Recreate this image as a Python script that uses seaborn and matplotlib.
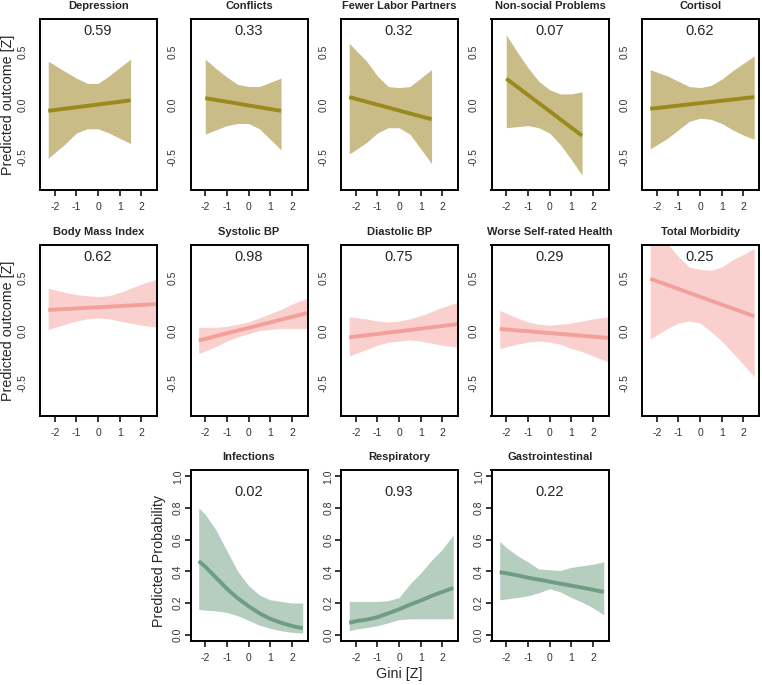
"""Predicted outcome vs Gini, 3x5 panel grid in base-R look."""
import matplotlib
matplotlib.use("Agg")
import matplotlib.pyplot as plt
import seaborn as sns

# ---------------------------------------------------------------------------
# Data
# ---------------------------------------------------------------------------

gini_a = [-2.3, -1.5, -1.0, -0.5, 0.0, 0.5, 1.0, 1.5]
gini_b = [-2.0, -1.5, -1.0, -0.5, 0.0, 0.5, 1.0, 1.5]
gini_c = [-2.3, -1.5, -1.0, -0.5, 0.0, 0.5, 1.0, 1.5, 2.0, 2.5]
gini_d = [-2.3, -1.5, -1.0, -0.5, 0.0, 0.5, 1.0, 1.5, 2.0, 2.75]
gini_e = [-2.3, -2.0, -1.5, -1.0, -0.5, 0.0, 0.5, 1.0, 1.5, 2.0, 2.5]

depression_fit = [-0.06, -0.039, -0.026, -0.013, 0.0, 0.013, 0.026, 0.04]
depression_lo = [-0.51, -0.37, -0.27, -0.23, -0.23, -0.27, -0.32, -0.37]
depression_hi = [0.41, 0.31, 0.25, 0.20, 0.20, 0.27, 0.35, 0.43]

conflicts_fit = [0.06, 0.043, 0.026, 0.009, -0.009, -0.026, -0.043, -0.06]
conflicts_lo = [-0.28, -0.24, -0.20, -0.18, -0.18, -0.23, -0.33, -0.43]
conflicts_hi = [0.43, 0.34, 0.26, 0.19, 0.17, 0.17, 0.21, 0.25]

labor_fit = [0.07, 0.026, -0.002, -0.029, -0.057, -0.085, -0.112, -0.14]
labor_lo = [-0.47, -0.36, -0.27, -0.22, -0.22, -0.28, -0.42, -0.56]
labor_hi = [0.58, 0.41, 0.27, 0.17, 0.16, 0.17, 0.25, 0.33]

nonsocial_fit = [0.245, 0.168, 0.091, 0.014, -0.063, -0.141, -0.218, -0.295]
nonsocial_lo = [-0.22, -0.21, -0.20, -0.22, -0.27, -0.38, -0.52, -0.67]
nonsocial_hi = [0.66, 0.50, 0.35, 0.22, 0.14, 0.10, 0.10, 0.12]

cortisol_fit = [-0.04, -0.022, -0.010, 0.001, 0.013, 0.024, 0.036, 0.047, 0.059, 0.07]
cortisol_lo = [-0.42, -0.32, -0.24, -0.16, -0.13, -0.14, -0.18, -0.24, -0.29, -0.33]
cortisol_hi = [0.33, 0.27, 0.22, 0.17, 0.16, 0.18, 0.24, 0.32, 0.39, 0.46]

bmi_fit = [0.195, 0.204, 0.209, 0.215, 0.220, 0.226, 0.231, 0.237, 0.242, 0.251]
bmi_lo = [0.01, 0.06, 0.09, 0.11, 0.12, 0.11, 0.09, 0.07, 0.05, 0.03]
bmi_hi = [0.40, 0.36, 0.34, 0.33, 0.32, 0.33, 0.36, 0.40, 0.44, 0.49]

systolic_fit = [-0.095, -0.053, -0.027, -0.001, 0.025, 0.051, 0.077, 0.103, 0.129, 0.168]
systolic_lo = [-0.22, -0.15, -0.10, -0.06, -0.03, 0.00, 0.01, 0.02, 0.02, 0.02]
systolic_hi = [0.03, 0.03, 0.04, 0.06, 0.08, 0.12, 0.16, 0.20, 0.25, 0.31]

diastolic_fit = [-0.065, -0.045, -0.033, -0.020, -0.008, 0.005, 0.018, 0.030, 0.043, 0.062]
diastolic_lo = [-0.24, -0.18, -0.14, -0.11, -0.10, -0.09, -0.10, -0.12, -0.14, -0.16]
diastolic_hi = [0.13, 0.11, 0.09, 0.08, 0.09, 0.11, 0.14, 0.18, 0.22, 0.27]

srh_fit = [0.015, 0.001, -0.007, -0.016, -0.024, -0.033, -0.041, -0.050, -0.058, -0.071]
srh_lo = [-0.17, -0.13, -0.11, -0.10, -0.11, -0.13, -0.17, -0.20, -0.24, -0.30]
srh_hi = [0.19, 0.12, 0.08, 0.06, 0.05, 0.06, 0.07, 0.09, 0.11, 0.13]

morbidity_fit = [0.49, 0.431, 0.394, 0.357, 0.320, 0.283, 0.246, 0.209, 0.172, 0.135]
morbidity_lo = [-0.08, 0.02, 0.07, 0.09, 0.07, -0.01, -0.10, -0.21, -0.32, -0.44]
morbidity_hi = [0.95, 0.82, 0.70, 0.60, 0.58, 0.57, 0.60, 0.67, 0.72, 0.78]

infections_fit = [0.465, 0.43, 0.36, 0.29, 0.23, 0.18, 0.135, 0.10, 0.075, 0.055, 0.04]
infections_lo = [0.16, 0.155, 0.15, 0.14, 0.12, 0.09, 0.06, 0.04, 0.025, 0.015, 0.01]
infections_hi = [0.80, 0.76, 0.66, 0.53, 0.40, 0.31, 0.25, 0.22, 0.21, 0.20, 0.20]

respiratory_fit = [0.075, 0.085, 0.095, 0.11, 0.135, 0.16, 0.19, 0.215, 0.245, 0.27, 0.295]
respiratory_lo = [0.025, 0.035, 0.045, 0.057, 0.075, 0.095, 0.10, 0.10, 0.10, 0.10, 0.10]
respiratory_hi = [0.21, 0.21, 0.21, 0.21, 0.215, 0.235, 0.32, 0.39, 0.47, 0.54, 0.63]

gastro_fit = [0.395, 0.388, 0.375, 0.36, 0.348, 0.335, 0.322, 0.31, 0.297, 0.284, 0.27]
gastro_lo = [0.22, 0.225, 0.235, 0.245, 0.265, 0.29, 0.27, 0.235, 0.205, 0.17, 0.125]
gastro_hi = [0.59, 0.55, 0.50, 0.46, 0.415, 0.41, 0.405, 0.425, 0.435, 0.445, 0.46]

titles = [
    "Depression", "Conflicts", "Fewer Labor Partners", "Non-social Problems", "Cortisol",
    "Body Mass Index", "Systolic BP", "Diastolic BP", "Worse Self-rated Health", "Total Morbidity",
    "Infections", "Respiratory", "Gastrointestinal",
]
p_values = ["0.59", "0.33", "0.32", "0.07", "0.62",
            "0.62", "0.98", "0.75", "0.29", "0.25",
            "0.02", "0.93", "0.22"]

x_ticks = [-2, -1, 0, 1, 2]
x_ticklabels = ["-2", "-1", "0", "1", "2"]
z_ticks = [-0.5, 0.0, 0.5]
z_ticklabels = ["-0.5", "0.0", "0.5"]
prob_ticks = [0.0, 0.2, 0.4, 0.6, 0.8, 1.0]
prob_ticklabels = ["0.0", "0.2", "0.4", "0.6", "0.8", "1.0"]

# (line colour, band colour) per row
ROW_COLORS = [("#9a8a1e", "#c9bc87"), ("#f4a09a", "#f9d0ce"), ("#6f9d81", "#b5cebf")]

# ---------------------------------------------------------------------------
# Layout helpers (pixel geometry of the 762x685 reference)
# ---------------------------------------------------------------------------

W, H = 762, 685
COL_LEFT = [40, 190.5, 341, 491.5, 642]
ROW_TOP = [19, 245, 470]
BOX_W, BOX_H = 117, 171

panels = [
    (0, 0, gini_a, depression_fit, depression_lo, depression_hi),
    (0, 1, gini_b, conflicts_fit, conflicts_lo, conflicts_hi),
    (0, 2, gini_a, labor_fit, labor_lo, labor_hi),
    (0, 3, gini_b, nonsocial_fit, nonsocial_lo, nonsocial_hi),
    (0, 4, gini_c, cortisol_fit, cortisol_lo, cortisol_hi),
    (1, 0, gini_d, bmi_fit, bmi_lo, bmi_hi),
    (1, 1, gini_d, systolic_fit, systolic_lo, systolic_hi),
    (1, 2, gini_d, diastolic_fit, diastolic_lo, diastolic_hi),
    (1, 3, gini_d, srh_fit, srh_lo, srh_hi),
    (1, 4, gini_c, morbidity_fit, morbidity_lo, morbidity_hi),
    (2, 1, gini_e, infections_fit, infections_lo, infections_hi),
    (2, 2, gini_e, respiratory_fit, respiratory_lo, respiratory_hi),
    (2, 3, gini_e, gastro_fit, gastro_lo, gastro_hi),
]

sns.set_style("white")
plt.rcParams["font.family"] = ["Liberation Sans", "DejaVu Sans"]

fig = plt.figure(figsize=(W / 100, H / 100), dpi=100)

for i, (row, col, gx, fit, lo, hi) in enumerate(panels):
    left = COL_LEFT[col] / W
    bottom = 1 - (ROW_TOP[row] + BOX_H) / H
    ax = fig.add_axes([left, bottom, BOX_W / W, BOX_H / H])
    line_c, band_c = ROW_COLORS[row]

    ax.fill_between(gx, lo, hi, color=band_c, linewidth=0)
    sns.lineplot(x=gx, y=fit, ax=ax, color=line_c, linewidth=2.8,
                 solid_capstyle="butt")

    ax.set_xlim(-2.68, 2.72)
    ax.set_xticks(x_ticks)
    ax.set_xticklabels(x_ticklabels)
    if row < 2:
        ax.set_ylim(-0.81, 0.81)
        ax.set_yticks(z_ticks)
        ax.set_yticklabels(z_ticklabels, rotation=90, va="center")
        ax.tick_params(axis="y", length=0, pad=9)
        ax.text(0, 0.7, p_values[i], ha="center", va="center", fontsize=10.5)
    else:
        ax.set_ylim(-0.04, 1.04)
        ax.set_yticks(prob_ticks)
        ax.set_yticklabels(prob_ticklabels, rotation=90, va="center")
        ax.tick_params(axis="y", length=4, width=1.3, pad=1.5)
        ax.text(0, 0.9, p_values[i], ha="center", va="center", fontsize=10.5)
    ax.tick_params(axis="x", length=4, width=1.3, pad=4.5)
    ax.tick_params(labelsize=7.5, labelcolor="#333333", direction="out",
                   bottom=True, left=True)

    for side in ax.spines.values():
        side.set_linewidth(1.4)
        side.set_color("black")

    ax.set_title(titles[i], fontsize=8, fontweight="bold", pad=7)
    ax.set_xlabel("")
    ax.set_ylabel("")

    if col == 0:
        ax.set_ylabel("Predicted outcome [Z]", fontsize=10.3, va="center")
        ax.yaxis.set_label_coords(-32 / BOX_W, 0.5)
    if row == 2 and col == 1:
        ax.set_ylabel("Predicted Probability", fontsize=10.3, va="center")
        ax.yaxis.set_label_coords(-32 / BOX_W, 0.47)
    if row == 2 and col == 2:
        ax.set_xlabel("Gini [Z]", fontsize=10.3, va="center")
        ax.xaxis.set_label_coords(0.5, -33 / BOX_H)

fig.savefig("out.png", dpi=100)
